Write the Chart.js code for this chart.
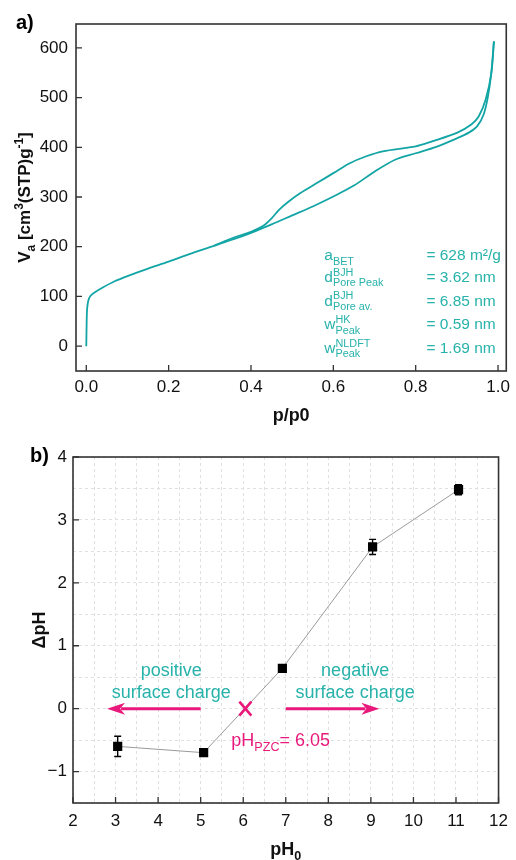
<!DOCTYPE html>
<html>
<head>
<meta charset="utf-8">
<script src="https://cdn.jsdelivr.net/npm/chart.js@4/dist/chart.umd.min.js"></script>
<style>
  html, body { margin: 0; padding: 0; background: #fff; }
  .box { position: absolute; left: 0; width: 516px; height: 430px; }
</style>
</head>
<body>
<div class="box" style="top:0"><canvas id="isoChart"></canvas></div>
<div class="box" style="top:430px"><canvas id="phChart"></canvas></div>
<script>
// ---- a) isotherm data ----
var adsP = [0, 0.0008, 0.002, 0.005, 0.01, 0.02, 0.04, 0.07, 0.1, 0.15, 0.2, 0.25, 0.3, 0.35, 0.4, 0.45, 0.5, 0.55, 0.6, 0.65, 0.7, 0.75, 0.8, 0.85, 0.9, 0.93, 0.95, 0.965, 0.975, 0.983, 0.99];
var adsV = [0, 45, 75, 92, 101, 108, 118, 131, 141, 156, 170, 185, 199, 213, 228, 245, 263, 281, 301, 323, 351, 375, 388, 401, 418, 430, 443, 466, 500, 545, 613];
var desP = [0.31, 0.36, 0.4, 0.43, 0.45, 0.468, 0.49, 0.52, 0.56, 0.6, 0.64, 0.68, 0.72, 0.8, 0.84, 0.9, 0.935, 0.953, 0.97, 0.984, 0.99];
var desV = [202, 219, 230, 242, 257, 274, 290, 308, 328, 348, 368, 382, 392, 402, 412, 429, 446, 462, 496, 550, 613];
var isoXTicks = [0, 0.2, 0.4, 0.6, 0.8, 1.0];
var isoYTicks = [0, 100, 200, 300, 400, 500, 600];
var poreLabels = [
  [{t: 'a'}, {sub: 'BET'}],
  [{t: 'd'}, {sup: 'BJH', sub: 'Pore Peak'}],
  [{t: 'd'}, {sup: 'BJH', sub: 'Pore av.'}],
  [{t: 'w'}, {sup: 'HK', sub: 'Peak'}],
  [{t: 'w'}, {sup: 'NLDFT', sub: 'Peak'}]
];
var poreValues = ['= 628 m²/g', '= 3.62 nm', '= 6.85 nm', '= 0.59 nm', '= 1.69 nm'];
var poreRowsV = [183, 139, 91, 44, -4];

// ---- b) pH drift data ----
var ph0 = [3.05, 5.07, 6.92, 9.04, 11.06];
var dpH = [-0.6, -0.7, 0.64, 2.57, 3.48];
var dpHErr = [0.16, 0.05, 0.06, 0.12, 0.08];
var phXTicks = [2, 3, 4, 5, 6, 7, 8, 9, 10, 11, 12];
var phYTicks = [-1, 0, 1, 2, 3, 4];
var pHpzc = 6.05;

var FONT = '"Liberation Sans", Arial, sans-serif';
var TEAL = '#13a5a5';
var TEAL_TXT = '#27b2aa';
var PINK = '#e8197b';

function pts(xs, ys) {
  return xs.map(function (x, i) { return {x: x, y: ys[i]}; });
}

// rich text: parts of {t} or {sup, sub}
function richWidth(ctx, parts, size, bold) {
  var w = 0, s = size * 0.7, b = bold ? 'bold ' : '';
  parts.forEach(function (p) {
    if (p.t !== undefined) { ctx.font = b + size + 'px ' + FONT; w += ctx.measureText(p.t).width; }
    else {
      ctx.font = b + s + 'px ' + FONT;
      var a1 = p.sup ? ctx.measureText(p.sup).width : 0;
      var a2 = p.sub ? ctx.measureText(p.sub).width : 0;
      w += Math.max(a1, a2);
    }
  });
  return w;
}
function drawRich(ctx, x, y, parts, size, color, bold) {
  var s = size * 0.7, b = bold ? 'bold ' : '';
  ctx.fillStyle = color;
  ctx.textBaseline = 'alphabetic';
  ctx.textAlign = 'left';
  parts.forEach(function (p) {
    if (p.t !== undefined) {
      ctx.font = b + size + 'px ' + FONT;
      ctx.fillText(p.t, x, y);
      x += ctx.measureText(p.t).width;
    } else {
      ctx.font = b + s + 'px ' + FONT;
      var w = 0;
      if (p.sup) { ctx.fillText(p.sup, x, y - size * 0.42); w = ctx.measureText(p.sup).width; }
      if (p.sub) { ctx.fillText(p.sub, x, y + size * 0.28); w = Math.max(w, ctx.measureText(p.sub).width); }
      x += w;
    }
  });
}

// frame + inward ticks
function frameTicks(xTicks, yTicks) {
  return {
    id: 'frameTicks',
    afterDatasetsDraw: function (chart) {
      var ctx = chart.ctx, a = chart.chartArea;
      var xs = chart.scales.x, ys = chart.scales.y;
      ctx.save();
      ctx.strokeStyle = '#333';
      ctx.lineWidth = 1.6;
      ctx.strokeRect(a.left, a.top, a.right - a.left, a.bottom - a.top);
      ctx.lineWidth = 1.3;
      ctx.beginPath();
      xTicks.forEach(function (v) {
        var px = xs.getPixelForValue(v);
        ctx.moveTo(px, a.bottom); ctx.lineTo(px, a.bottom - 6);
      });
      yTicks.forEach(function (v) {
        var py = ys.getPixelForValue(v);
        ctx.moveTo(a.left, py); ctx.lineTo(a.left + 6, py);
      });
      ctx.stroke();
      ctx.restore();
    }
  };
}

// ---- chart a) ----
var isoText = {
  id: 'isoText',
  afterDraw: function (chart) {
    var ctx = chart.ctx, a = chart.chartArea;
    var xs = chart.scales.x, ys = chart.scales.y;
    ctx.save();
    poreLabels.forEach(function (parts, i) {
      var py = ys.getPixelForValue(poreRowsV[i]) + 5;
      drawRich(ctx, xs.getPixelForValue(0.578), py, parts, 15.5, TEAL_TXT, false);
      ctx.font = '15.5px ' + FONT;
      ctx.fillText(poreValues[i], xs.getPixelForValue(0.826), py);
    });
    // axis titles
    ctx.fillStyle = '#111';
    ctx.font = 'bold 18px ' + FONT;
    ctx.textAlign = 'center';
    ctx.textBaseline = 'middle';
    ctx.fillText('p/p0', (a.left + a.right) / 2, 416);
    var yt = [{t: 'V'}, {sub: 'a'}, {t: ' [cm'}, {sup: '3'}, {t: '(STP)g'}, {sup: '-1'}, {t: ']'}];
    var w = richWidth(ctx, yt, 17, true);
    ctx.translate(30, (a.top + a.bottom) / 2);
    ctx.rotate(-Math.PI / 2);
    drawRich(ctx, -w / 2, 0, yt, 17, '#111', true);
    ctx.restore();
    ctx.save();
    ctx.fillStyle = '#000';
    ctx.font = 'bold 20px ' + FONT;
    ctx.textBaseline = 'middle';
    ctx.fillText('a)', 16, 23);
    ctx.restore();
  }
};

new Chart(document.getElementById('isoChart'), {
  type: 'scatter',
  data: {
    datasets: [{
      data: pts(adsP, adsV),
      showLine: true,
      borderColor: TEAL,
      borderWidth: 1.8,
      pointRadius: 0,
      tension: 0.3
    }, {
      data: pts(desP, desV),
      showLine: true,
      borderColor: TEAL,
      borderWidth: 1.8,
      pointRadius: 0,
      tension: 0.3
    }]
  },
  options: {
    responsive: true,
    maintainAspectRatio: false,
    animation: false,
    layout: {padding: {top: 24, right: 8, left: 0, bottom: 0}},
    plugins: {legend: {display: false}, tooltip: {enabled: false}},
    scales: {
      x: {
        type: 'linear', min: -0.025, max: 1.02,
        afterBuildTicks: function (s) { s.ticks = isoXTicks.map(function (v) { return {value: v}; }); },
        afterFit: function (s) { s.height = 59; },
        grid: {display: false, drawTicks: false},
        border: {display: false},
        ticks: {padding: 6, color: '#111', font: {family: FONT, size: 17}, autoSkip: false, maxRotation: 0,
          callback: function (v) { return v.toFixed(1); }}
      },
      y: {
        type: 'linear', min: -50, max: 648,
        afterBuildTicks: function (s) { s.ticks = isoYTicks.map(function (v) { return {value: v}; }); },
        afterFit: function (s) { s.width = 76; },
        grid: {display: false, drawTicks: false},
        border: {display: false},
        ticks: {padding: 8, color: '#111', font: {family: FONT, size: 17}}
      }
    }
  },
  plugins: [frameTicks(isoXTicks, isoYTicks), isoText]
});

// ---- chart b) ----
function arrow(ctx, x1, x2, y) {
  var dir = x2 > x1 ? 1 : -1;
  ctx.beginPath();
  ctx.moveTo(x1, y); ctx.lineTo(x2 - dir * 14, y);
  ctx.stroke();
  ctx.beginPath();
  ctx.moveTo(x2, y);
  ctx.lineTo(x2 - dir * 18, y - 6);
  ctx.lineTo(x2 - dir * 13, y);
  ctx.lineTo(x2 - dir * 18, y + 6);
  ctx.closePath();
  ctx.fill();
}

var phDraw = {
  id: 'phDraw',
  afterDatasetsDraw: function (chart) {
    var ctx = chart.ctx, a = chart.chartArea;
    var xs = chart.scales.x, ys = chart.scales.y;
    ctx.save();
    // error bars
    ctx.strokeStyle = '#000';
    ctx.lineWidth = 1.4;
    ctx.beginPath();
    ph0.forEach(function (x, i) {
      var px = xs.getPixelForValue(x);
      var y1 = ys.getPixelForValue(dpH[i] - dpHErr[i]);
      var y2 = ys.getPixelForValue(dpH[i] + dpHErr[i]);
      ctx.moveTo(px, y1); ctx.lineTo(px, y2);
      ctx.moveTo(px - 3.5, y1); ctx.lineTo(px + 3.5, y1);
      ctx.moveTo(px - 3.5, y2); ctx.lineTo(px + 3.5, y2);
    });
    ctx.stroke();

    // annotations
    ctx.fillStyle = TEAL_TXT;
    ctx.font = '18px ' + FONT;
    ctx.textAlign = 'center';
    ctx.textBaseline = 'middle';
    ctx.fillText('positive', xs.getPixelForValue(4.31), ys.getPixelForValue(0.6));
    ctx.fillText('surface charge', xs.getPixelForValue(4.31), ys.getPixelForValue(0.25));
    ctx.fillText('negative', xs.getPixelForValue(8.63), ys.getPixelForValue(0.6));
    ctx.fillText('surface charge', xs.getPixelForValue(8.63), ys.getPixelForValue(0.25));

    ctx.strokeStyle = PINK;
    ctx.fillStyle = PINK;
    ctx.lineWidth = 3;
    var y0 = ys.getPixelForValue(0);
    arrow(ctx, xs.getPixelForValue(5.0), xs.getPixelForValue(2.8), y0);
    arrow(ctx, xs.getPixelForValue(7.0), xs.getPixelForValue(9.2), y0);
    var cx = xs.getPixelForValue(pHpzc);
    ctx.lineWidth = 2.6;
    ctx.beginPath();
    ctx.moveTo(cx - 6, y0 - 7); ctx.lineTo(cx + 6, y0 + 7);
    ctx.moveTo(cx + 6, y0 - 7); ctx.lineTo(cx - 6, y0 + 7);
    ctx.stroke();
    drawRich(ctx, xs.getPixelForValue(5.72), ys.getPixelForValue(-0.5) + 6,
      [{t: 'pH'}, {sub: 'PZC'}, {t: '= ' + pHpzc.toFixed(2)}], 18, PINK, false);

    // axis titles
    var t = [{t: 'pH'}, {sub: '0'}];
    var w = richWidth(ctx, t, 18, true);
    drawRich(ctx, (a.left + a.right) / 2 - w / 2, 425, t, 18, '#111', true);
    ctx.translate(40, (a.top + a.bottom) / 2);
    ctx.rotate(-Math.PI / 2);
    ctx.fillStyle = '#111';
    ctx.font = 'bold 18px ' + FONT;
    ctx.textAlign = 'center';
    ctx.textBaseline = 'middle';
    ctx.fillText('ΔpH', 0, 0);
    ctx.restore();

    ctx.save();
    ctx.fillStyle = '#000';
    ctx.font = 'bold 20px ' + FONT;
    ctx.textBaseline = 'middle';
    ctx.fillText('b)', 30, 26);
    ctx.restore();
  }
};

var halfSteps = [];
for (var v = phXTicks[0]; v <= phXTicks[phXTicks.length - 1]; v += 0.5) halfSteps.push(v);
var halfStepsY = [];
for (var u = -1.5; u <= 4; u += 0.5) halfStepsY.push(u);

new Chart(document.getElementById('phChart'), {
  type: 'scatter',
  data: {
    datasets: [{
      data: pts(ph0, dpH),
      showLine: true,
      borderColor: '#9a9a9a',
      borderWidth: 1,
      pointStyle: 'rect',
      pointRadius: 6.5,
      pointBackgroundColor: '#000',
      pointBorderColor: '#000',
      pointBorderWidth: 0
    }]
  },
  options: {
    responsive: true,
    maintainAspectRatio: false,
    animation: false,
    layout: {padding: {top: 27, right: 10, left: 0, bottom: 0}},
    plugins: {legend: {display: false}, tooltip: {enabled: false}},
    scales: {
      x: {
        type: 'linear', min: 2, max: 12,
        afterBuildTicks: function (s) { s.ticks = halfSteps.map(function (v) { return {value: v}; }); },
        afterFit: function (s) { s.height = 57; },
        grid: {color: '#e0e0e0', lineWidth: 1, drawTicks: false},
        border: {display: false, dash: [3, 3]},
        ticks: {padding: 8, color: '#111', font: {family: FONT, size: 17}, autoSkip: false, maxRotation: 0,
          callback: function (v) { return phXTicks.indexOf(v) >= 0 ? v : ''; }}
      },
      y: {
        type: 'linear', min: -1.5, max: 4,
        afterBuildTicks: function (s) { s.ticks = halfStepsY.map(function (v) { return {value: v}; }); },
        afterFit: function (s) { s.width = 73; },
        grid: {color: '#e0e0e0', lineWidth: 1, drawTicks: false},
        border: {display: false, dash: [3, 3]},
        ticks: {padding: 6, color: '#111', font: {family: FONT, size: 17}, autoSkip: false,
          callback: function (v) { return phYTicks.indexOf(v) >= 0 ? (v < 0 ? '\u2212' + Math.abs(v) : v) : ''; }}
      }
    }
  },
  plugins: [frameTicks(phXTicks, phYTicks), phDraw]
});
</script>
</body>
</html>
